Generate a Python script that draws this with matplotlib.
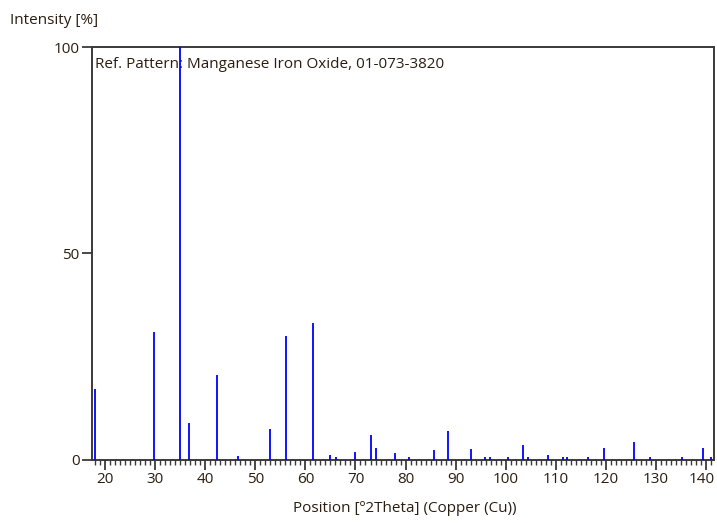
import matplotlib
matplotlib.use("Agg")
import matplotlib.pyplot as plt
from matplotlib.ticker import MultipleLocator
from matplotlib.transforms import ScaledTranslation
from matplotlib import font_manager

positions = [17.85, 29.8, 35.0, 36.66, 42.4, 46.5, 52.85, 56.1, 61.6,
             64.95, 66.1, 70.0, 73.0, 74.1, 77.9, 80.6, 85.6, 88.4, 93.05,
             95.8, 96.9, 100.45, 103.5, 104.5, 108.4, 111.4, 112.3, 116.4,
             119.7, 125.6, 128.8, 135.2, 139.5, 141.0]
intensities = [17.1, 31.0, 100.0, 8.9, 20.6, 0.9, 7.5, 30.0, 33.0,
               1.0, 0.7, 1.8, 6.0, 2.8, 1.5, 0.7, 2.3, 7.0, 2.5,
               0.7, 0.7, 0.7, 3.5, 0.7, 1.0, 0.7, 0.7, 0.7,
               2.8, 4.2, 0.7, 0.7, 2.8, 0.7]
x_ticks = [20, 30, 40, 50, 60, 70, 80, 90, 100, 110, 120, 130, 140]
y_ticks = [0, 50, 100]
title_text = "Ref. Pattern: Manganese Iron Oxide, 01-073-3820"
x_label = "Position [º2Theta] (Copper (Cu))"
y_label = "Intensity [%]"

avail = {f.name for f in font_manager.fontManager.ttflist}
fam = ["Liberation Sans Narrow"] if "Liberation Sans Narrow" in avail else ["Open Sans"]
plt.rcParams['font.family'] = fam + ["DejaVu Sans"]

txt_color = "#2b1d10"
spine_color = "#3a3a3a"
fs = 11

fig = plt.figure(figsize=(7.17, 5.23), dpi=100)
ax = fig.add_axes([0.1283, 0.1214, 0.9954 - 0.1283, 0.9101 - 0.1214])

ax.vlines(positions, 0, intensities, color="#0000ff", linewidth=1.3, zorder=3)

ax.set_xlim(17.33, 141.6)
ax.set_ylim(0, 100)
ax.set_xticks(x_ticks)
ax.set_yticks(y_ticks)
ax.xaxis.set_minor_locator(MultipleLocator(1))

for s in ax.spines.values():
    s.set_color(spine_color)
    s.set_linewidth(1.4)

ax.tick_params(axis="both", which="major", direction="out", length=7, width=1.3,
               color=spine_color, labelsize=fs, labelcolor=txt_color, pad=2)
ax.tick_params(axis="x", which="minor", direction="out", length=3.5, width=1.0,
               color=spine_color)

# nudge the last x tick label slightly left so it stays inside the figure
last = ax.get_xticklabels()[-1]
last.set_transform(last.get_transform() + ScaledTranslation(-4 / 100, 0, fig.dpi_scale_trans))

ax.text(0.005, 0.976, title_text, transform=ax.transAxes, ha="left", va="top",
        fontsize=fs, color=txt_color, zorder=1)

fig.text(10 / 717, 1 - 20 / 523, y_label, ha="left", va="center",
         fontsize=fs, color=txt_color)
fig.text(405 / 717, 1 - 509 / 523, x_label, ha="center", va="center",
         fontsize=fs, color=txt_color)

fig.savefig("out.png", dpi=100)
